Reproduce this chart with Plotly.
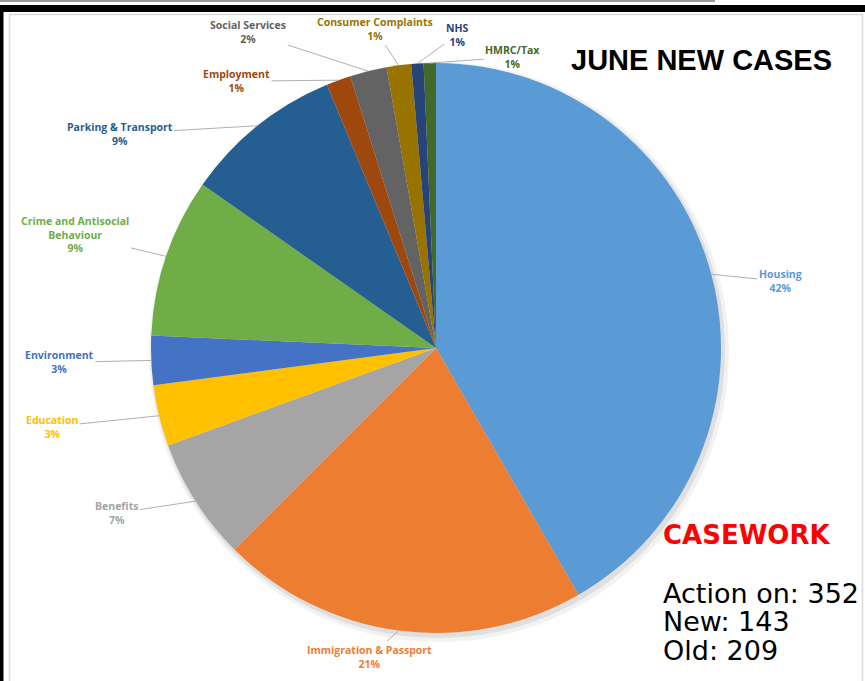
import math
import plotly.graph_objects as go

# ---- data ----
categories = ["Housing", "Immigration & Passport", "Benefits", "Education", "Environment",
              "Crime and Antisocial Behaviour", "Parking & Transport", "Employment",
              "Social Services", "Consumer Complaints", "NHS", "HMRC/Tax"]
new_cases = [60, 30, 10, 5, 4, 13, 13, 2, 3, 2, 1, 1]
label_lines = ["Housing", "Immigration & Passport", "Benefits", "Education", "Environment",
               "Crime and Antisocial<br>Behaviour", "Parking & Transport", "Employment",
               "Social Services", "Consumer Complaints", "NHS", "HMRC/Tax"]
action_on = 352
new_total = 143
old_total = 209

# ---- styles ----
slice_colors = ["#5B9BD5", "#ED7D31", "#A5A5A5", "#FFC000", "#4472C4", "#70AD47",
                "#255E91", "#9E480E", "#636363", "#997300", "#264478", "#43682B"]
# label offsets (px) from slice edge midpoint
label_offsets = [(69, 7), (-29, 26), (-79, 12), (-107, 11), (-92, 2), (-91, -22),
                 (-138, 8), (-102, 1), (-120, -39), (-24, -36), (40, -29), (83, -6)]

W, H = 865, 681
cx, cy, R = 436, 348, 285

fig = go.Figure()

# soft shadow layers
for dx, dy, extra, alpha in [(3, 4, 5, 0.05), (2, 3, 2, 0.08)]:
    ccx, ccy, rr = cx + dx, cy + dy, R + extra
    fig.add_trace(go.Pie(
        values=[1], labels=["shadow"], marker=dict(colors=[f"rgba(0,0,0,{alpha})"], line=dict(width=0)),
        textinfo="none", hoverinfo="skip", sort=False, showlegend=False,
        domain=dict(x=[(ccx - rr) / W, (ccx + rr) / W], y=[1 - (ccy + rr) / H, 1 - (ccy - rr) / H]),
    ))

fig.add_trace(go.Pie(
    labels=categories, values=new_cases, sort=False, direction="clockwise", rotation=0,
    marker=dict(colors=slice_colors, line=dict(width=0)),
    textinfo="none", showlegend=False,
    domain=dict(x=[(cx - R) / W, (cx + R) / W], y=[1 - (cy + R) / H, 1 - (cy - R) / H]),
))

total = sum(new_cases)
annotations = []
cum = 0.0
for name, txt, v, col, (ox, oy) in zip(categories, label_lines, new_cases, slice_colors, label_offsets):
    mid = (cum + v / 2) / total * 2 * math.pi
    cum += v
    tx = cx + R * math.sin(mid)
    ty = cy - R * math.cos(mid)
    pct = round(100 * v / total)
    annotations.append(dict(
        x=tx / W, y=1 - ty / H, xref="paper", yref="paper",
        ax=ox, ay=oy, showarrow=True, arrowhead=0, arrowwidth=1, arrowcolor="#B0B0B0",
        standoff=0, startstandoff=0,
        text=f"{txt}<br>{pct}%", align="center",
        font=dict(family="Open Sans", size=10.5, color=col, weight="bold"),
    ))

annotations.append(dict(x=569 / W, y=1 - 60 / H, xref="paper", yref="paper", xanchor="left", yanchor="middle",
                        showarrow=False, text="<b>JUNE NEW CASES</b>",
                        font=dict(family="Liberation Sans", size=29, color="black")))
annotations.append(dict(x=661 / W, y=1 - 535 / H, xref="paper", yref="paper", xanchor="left", yanchor="middle",
                        showarrow=False, text="<b>CASEWORK</b>",
                        font=dict(family="DejaVu Sans", size=26, color="#FF0000")))
for i, t in enumerate([f"Action on: {action_on}", f"New: {new_total}", f"Old: {old_total}"]):
    annotations.append(dict(x=661 / W, y=1 - (593 + 28.5 * i) / H, xref="paper", yref="paper",
                            xanchor="left", yanchor="middle", showarrow=False, text=t,
                            font=dict(family="DejaVu Sans", size=27, color="black")))

shapes = [
    dict(type="rect", xref="paper", yref="paper", x0=9.5 / W, x1=862.5 / W, y0=-0.01, y1=1 - 14.5 / H,
         line=dict(color="#D9D9D9", width=1.5), fillcolor="rgba(0,0,0,0)", layer="below"),
    dict(type="rect", xref="paper", yref="paper", x0=0, x1=1, y0=1 - 12 / H, y1=1 - 5 / H,
         line=dict(width=0), fillcolor="black"),
    dict(type="rect", xref="paper", yref="paper", x0=0, x1=3.5 / W, y0=0, y1=1 - 5 / H,
         line=dict(width=0), fillcolor="black"),
    dict(type="line", xref="paper", yref="paper", x0=0, x1=715 / W, y0=1 - 1 / H, y1=1 - 1 / H,
         line=dict(color="#999999", width=2)),
]

fig.update_layout(
    width=W, height=H, margin=dict(l=0, r=0, t=0, b=0),
    paper_bgcolor="white", plot_bgcolor="white",
    annotations=annotations, shapes=shapes,
)

fig.write_html("out.html", config={"displayModeBar": False},
               post_script="document.body.style.margin='0';document.body.style.overflow='hidden';")
